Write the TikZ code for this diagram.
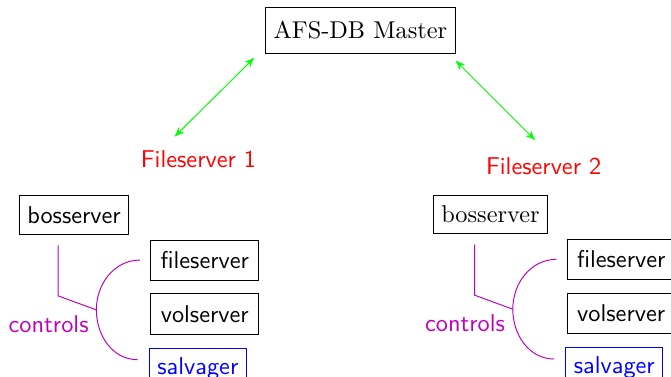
\documentclass[tikz,border=0pt]{standalone}
\usepackage{tikz}
\usetikzlibrary{arrows,positioning}
\definecolor{ctrlcol}{RGB}{190,0,190}

\begin{document}
\begin{tikzpicture}[>=stealth',node distance=2cm,on grid]
  \useasboundingbox (0,0) rectangle (9.70,5.44);
  \tikzset{box/.style={draw,minimum height=0.58cm,font=\sffamily}}
  \tikzset{proc/.style={box,minimum width=1.56cm}}
  \tikzset{server/.style={text=red,font=\sffamily}}

  \node[draw,minimum width=2.75cm,minimum height=0.67cm] (M) at (5.21,5.0) {AFS-DB Master};
  \node[server]       (FS1) [below left =1.86cm and 2.34cm of M]   {Fileserver 1};
  \node[server]       (FS2) [below right =1.96cm and 2.65cm of M]  {Fileserver 2};

  \node[box,minimum height=0.56cm]              (B1) [below left =0.81cm and 1.80cm of FS1] {bosserver};
  \node[proc]         (F1) [below right =0.65cm and 1.89cm of B1] {fileserver};
  \node[proc]         (V1) [below =0.78cm of F1]                  {volserver};
  \node[box,blue]     (S1) [below left =0.79cm and 0.10cm of V1]  {salvager};

  \node[box,font=\rmfamily,minimum height=0.56cm] (B2) [below left =0.70cm and 0.77cm of FS2] {bosserver};
  \node[proc]         (F2) [below right =0.65cm and 1.89cm of B2] {fileserver};
  \node[proc]         (V2) [below =0.78cm of F2]                  {volserver};
  \node[box,blue]     (S2) [below left =0.79cm and 0.10cm of V2]  {salvager};

\tikzset{sync/.style={<->,green}}
\tikzset{ctrl/.style={ctrlcol}}
\path ([xshift=-0.16cm,yshift=-0.06cm]M.south west) edge [sync] ([xshift=-0.34cm,yshift=0.33cm]FS1.center)
      ([yshift=-0.10cm]M.south east)                 edge [sync] ([xshift=-0.13cm,yshift=0.38cm]FS2.center);

  \coordinate (k1) at ([xshift=-0.78cm,yshift=0.06cm]V1.west);
  \coordinate (k2) at ([xshift=-0.78cm,yshift=0.06cm]V2.west);
  \node[text=ctrlcol,font=\sffamily] (c1) at ([xshift=-0.69cm,yshift=-0.20cm]k1) {controls};
  \node[text=ctrlcol,font=\sffamily] (c2) at ([xshift=-0.69cm,yshift=-0.20cm]k2) {controls};

  \draw[ctrl] ([xshift=-0.23cm,yshift=-0.15cm]B1.south) -- ++(0,-0.73) -- (k1);
  \draw[ctrl] ([xshift=-0.15cm]F1.west) to[out=180,in=90] (k1) to[out=-90,in=180] ([xshift=-0.16cm,yshift=0.13cm]S1.west);
  \draw[ctrl] ([xshift=-0.23cm,yshift=-0.15cm]B2.south) -- ++(0,-0.73) -- (k2);
  \draw[ctrl] ([xshift=-0.15cm]F2.west) to[out=180,in=90] (k2) to[out=-90,in=180] ([xshift=-0.16cm,yshift=0.13cm]S2.west);
\end{tikzpicture}
\end{document}
